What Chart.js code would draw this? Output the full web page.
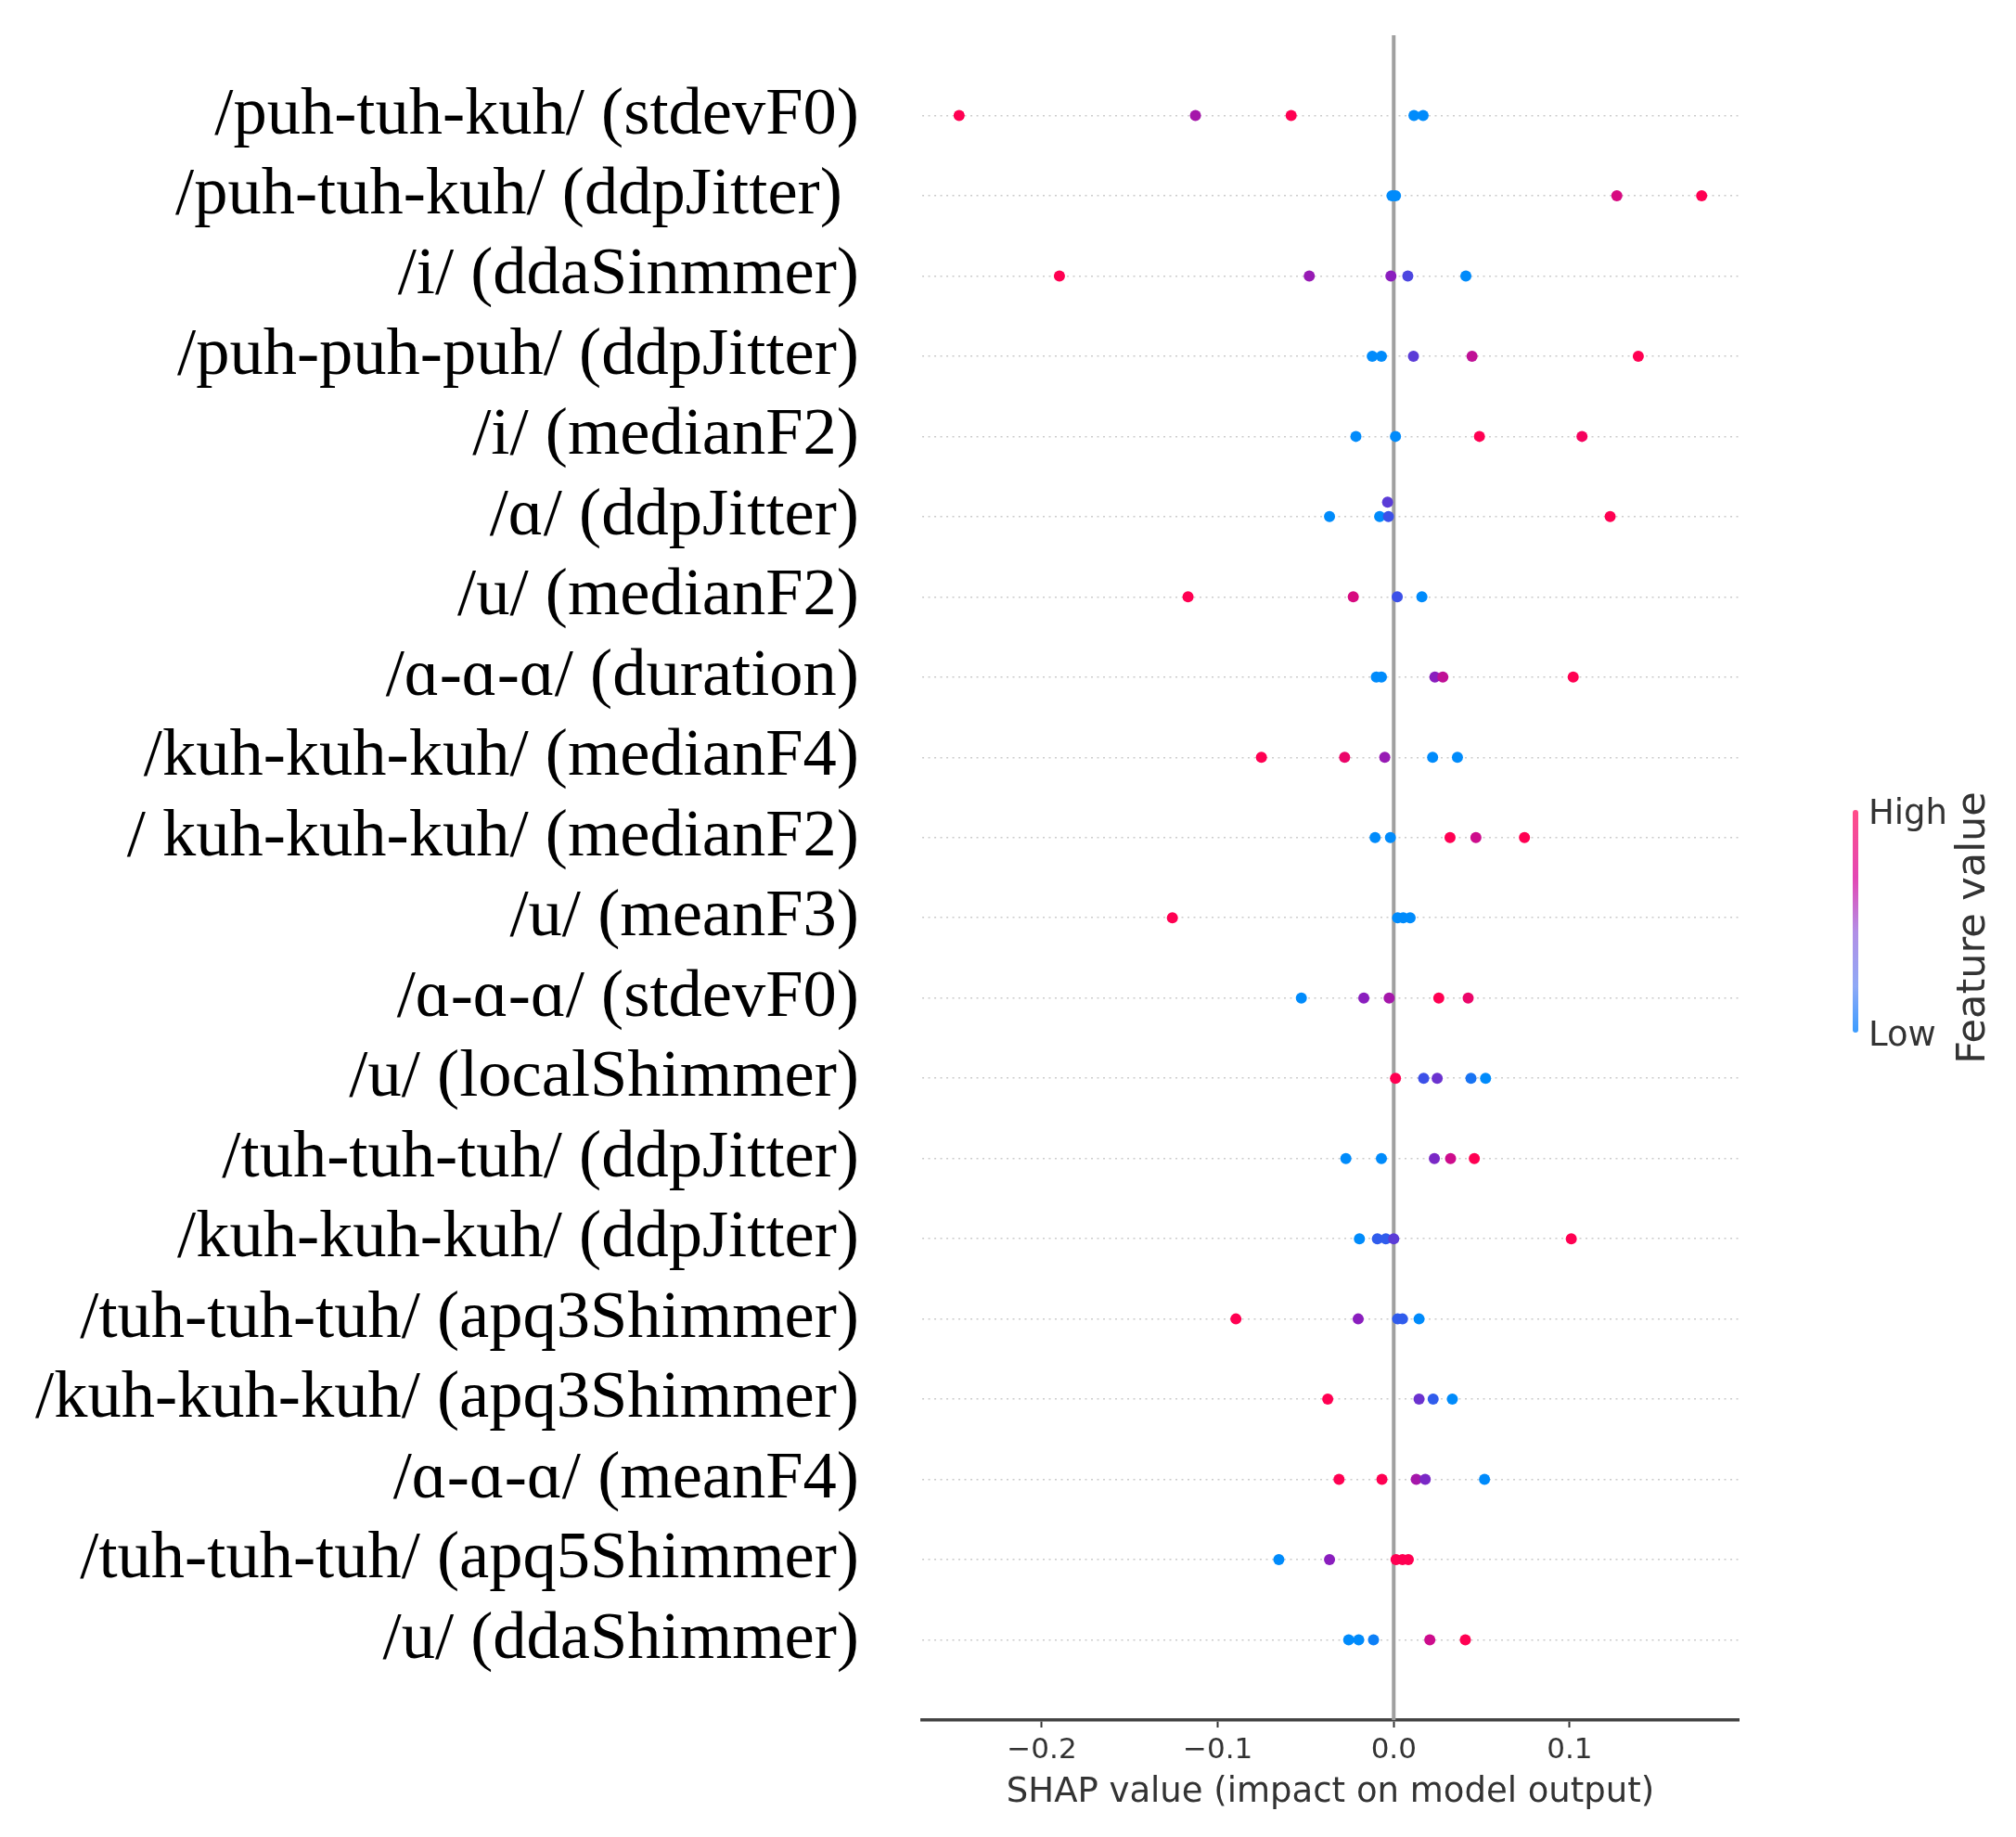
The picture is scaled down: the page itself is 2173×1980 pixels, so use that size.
<!DOCTYPE html>
<html>
<head>
<meta charset="utf-8">
<style>
html,body{margin:0;padding:0;background:#fff;}
canvas{display:block;}
</style>
<script src="https://cdn.jsdelivr.net/npm/chart.js@4.4.0/dist/chart.umd.min.js"></script>
</head>
<body>
<canvas id="c" width="2173" height="1980" style="width:2173px;height:1980px"></canvas>
<script>
// ---- data ----
const featureNames = [
  "/puh-tuh-kuh/ (stdevF0)",
  "/puh-tuh-kuh/ (ddpJitter) ",
  "/i/ (ddaSinmmer)",
  "/puh-puh-puh/ (ddpJitter)",
  "/i/ (medianF2)",
  "/\u0251/ (ddpJitter)",
  "/u/ (medianF2)",
  "/\u0251-\u0251-\u0251/ (duration)",
  "/kuh-kuh-kuh/ (medianF4)",
  "/ kuh-kuh-kuh/ (medianF2)",
  "/u/ (meanF3)",
  "/\u0251-\u0251-\u0251/ (stdevF0)",
  "/u/ (localShimmer)",
  "/tuh-tuh-tuh/ (ddpJitter)",
  "/kuh-kuh-kuh/ (ddpJitter)",
  "/tuh-tuh-tuh/ (apq3Shimmer)",
  "/kuh-kuh-kuh/ (apq3Shimmer)",
  "/\u0251-\u0251-\u0251/ (meanF4)",
  "/tuh-tuh-tuh/ (apq5Shimmer)",
  "/u/ (ddaShimmer)"
];
// SHAP values per feature (row order top to bottom)
const shapValues = [
  [-0.247, -0.1127, -0.0583, 0.0115, 0.0167],
  [-0.001, 0.001, 0.1268, 0.175],
  [-0.190, -0.048, -0.0016, 0.008, 0.041],
  [-0.0122, -0.007, 0.0112, 0.0445, 0.139],
  [-0.0215, 0.001, 0.0487, 0.107],
  [-0.0365, -0.008, -0.003, -0.0035, 0.123],
  [-0.1169, -0.023, 0.002, 0.016],
  [-0.0099, -0.007, 0.0234, 0.0279, 0.102],
  [-0.0752, -0.0279, -0.0051, 0.0221, 0.0362],
  [-0.0106, -0.0019, 0.032, 0.0467, 0.0743],
  [-0.1258, 0.0022, 0.0054, 0.0093],
  [-0.0525, -0.017, -0.0026, 0.0256, 0.0423],
  [0.001, 0.017, 0.0247, 0.0439, 0.0522],
  [-0.0272, -0.007, 0.0231, 0.0323, 0.0458],
  [-0.0195, -0.0093, -0.0045, 0.0, 0.1009],
  [-0.0897, -0.0202, 0.0022, 0.005, 0.0144],
  [-0.0375, 0.0144, 0.0224, 0.0333],
  [-0.0311, -0.0067, 0.0128, 0.0179, 0.0516],
  [-0.0653, -0.0365, 0.0013, 0.005, 0.0083],
  [-0.0256, -0.0199, -0.0115, 0.0205, 0.0407]
];
// normalised feature value of each point (0 = low, 1 = high)
const featureValues = [
  [1, 0.6, 1, 0, 0],
  [0, 0, 0.8, 1],
  [1, 0.55, 0.5, 0.3, 0],
  [0, 0, 0.35, 0.7, 1],
  [0, 0, 1, 0.95],
  [0, 0, 0.25, 0.35, 1],
  [1, 0.8, 0.25, 0],
  [0, 0, 0.5, 0.7, 1],
  [1, 0.9, 0.55, 0, 0],
  [0, 0, 1, 0.75, 1],
  [1, 0, 0, 0],
  [0, 0.5, 0.6, 1, 0.9],
  [1, 0.25, 0.4, 0.1, 0],
  [0, 0, 0.45, 0.75, 1],
  [0, 0.2, 0.2, 0.35, 1],
  [1, 0.5, 0.2, 0.2, 0],
  [1, 0.4, 0.2, 0],
  [1, 1, 0.6, 0.45, 0],
  [0, 0.5, 1, 1, 1],
  [0, 0, 0.05, 0.75, 1]
];
// beeswarm stacking: [row, point index, lift in rows]
const swarmLift = [[5, 3, 0.18]];
const xTickValues = [-0.2, -0.1, 0.0, 0.1];
const xTickLabels = ["\u22120.2", "\u22120.1", "0.0", "0.1"];
const xLimits = [-0.268, 0.196];
const axisTitle = "SHAP value (impact on model output)";
const colorbarLabels = ["High", "Low", "Feature value"];

// ---- colours ----
const cmapStops = [
  [0.0, [0, 139, 251]],
  [0.25, [60, 80, 232]],
  [0.5, [138, 30, 190]],
  [0.75, [205, 12, 140]],
  [1.0, [255, 0, 82]]
];
function cmap(t) {
  for (let i = 1; i < cmapStops.length; i++) {
    if (t <= cmapStops[i][0]) {
      const [t0, c0] = cmapStops[i - 1], [t1, c1] = cmapStops[i];
      const f = (t - t0) / (t1 - t0);
      const c = c0.map((v, k) => Math.round(v + (c1[k] - v) * f));
      return `rgb(${c[0]},${c[1]},${c[2]})`;
    }
  }
  const c = cmapStops[cmapStops.length - 1][1];
  return `rgb(${c[0]},${c[1]},${c[2]})`;
}

const points = [], colors = [];
shapValues.forEach((row, r) => {
  row.forEach((v, i) => {
    let y = r;
    swarmLift.forEach(([rr, ii, d]) => { if (rr === r && ii === i) y = r - d; });
    points.push({ x: v, y: y });
    colors.push(cmap(featureValues[r][i]));
  });
});

const rowTicks = featureNames.map((_, i) => i);

const colorbarPlugin = {
  id: 'colorbar',
  afterDraw(chart) {
    const ctx = chart.ctx;
    ctx.save();
    const x = 2000, y0 = 876, y1 = 1110;
    const g = ctx.createLinearGradient(0, y0, 0, y1);
    g.addColorStop(0, '#ff4d8a');
    g.addColorStop(0.3, '#e447b4');
    g.addColorStop(0.55, '#b28fe6');
    g.addColorStop(0.8, '#8fa9f6');
    g.addColorStop(1, '#3f9dff');
    ctx.strokeStyle = g;
    ctx.lineWidth = 6;
    ctx.lineCap = 'round';
    ctx.beginPath();
    ctx.moveTo(x, y0);
    ctx.lineTo(x, y1);
    ctx.stroke();
    ctx.fillStyle = '#333333';
    ctx.font = '37px "DejaVu Sans"';
    ctx.textAlign = 'left';
    ctx.textBaseline = 'middle';
    ctx.fillText(colorbarLabels[0], 2014, 878);
    ctx.fillText(colorbarLabels[1], 2014, 1117);
    ctx.translate(2128, 1000);
    ctx.rotate(-Math.PI / 2);
    ctx.textAlign = 'center';
    ctx.font = '43px "DejaVu Sans"';
    ctx.fillText(colorbarLabels[2], 0, 0);
    ctx.restore();
  }
};

new Chart(document.getElementById('c'), {
  data: {
    datasets: [
      {
        type: 'scatter',
        data: points,
        pointBackgroundColor: colors,
        pointBorderWidth: 0,
        pointRadius: 6,
        pointHoverRadius: 6,
        order: 1
      },
      {
        type: 'line',
        data: [{ x: 0, y: -1 }, { x: 0, y: featureNames.length }],
        borderColor: '#a0a0a0',
        borderWidth: 4,
        pointRadius: 0,
        order: 2
      }
    ]
  },
  options: {
    responsive: false,
    devicePixelRatio: 1,
    animation: false,
    layout: { padding: { left: 0, right: 299, top: 38, bottom: 0 } },
    plugins: { legend: { display: false }, tooltip: { enabled: false } },
    scales: {
      x: {
        type: 'linear',
        min: xLimits[0],
        max: xLimits[1],
        afterBuildTicks: s => { s.ticks = xTickValues.map(v => ({ value: v })); },
        afterFit: s => { s.height = 126; s.paddingLeft = 0; s.paddingRight = 0; },
        grid: { drawOnChartArea: false, drawTicks: true, tickLength: 8, tickColor: '#333333', tickWidth: 2 },
        border: { display: true, color: '#444444', width: 3.5 },
        ticks: {
          color: '#333333',
          font: { family: '"DejaVu Sans"', size: 31 },
          padding: 6,
          maxRotation: 0,
          callback: (v, i) => xTickLabels[i]
        },
        title: {
          display: true,
          text: axisTitle,
          color: '#333333',
          font: { family: '"DejaVu Sans"', size: 37 },
          padding: { top: 0, bottom: 25 }
        }
      },
      y: {
        type: 'linear',
        min: -1,
        max: featureNames.length,
        reverse: true,
        afterBuildTicks: s => { s.ticks = rowTicks.map(v => ({ value: v })); },
        afterFit: s => { s.width = 994; s.paddingTop = 0; s.paddingBottom = 0; },
        grid: { color: '#cccccc', lineWidth: 1.5, drawTicks: false },
        border: { display: false, dash: [2, 4.5] },
        ticks: {
          color: '#000000',
          font: { family: '"Liberation Serif"', size: 72.5 },
          padding: 68,
          autoSkip: false,
          callback: (v, i) => featureNames[i]
        }
      }
    }
  },
  plugins: [colorbarPlugin]
});
</script>
</body>
</html>
